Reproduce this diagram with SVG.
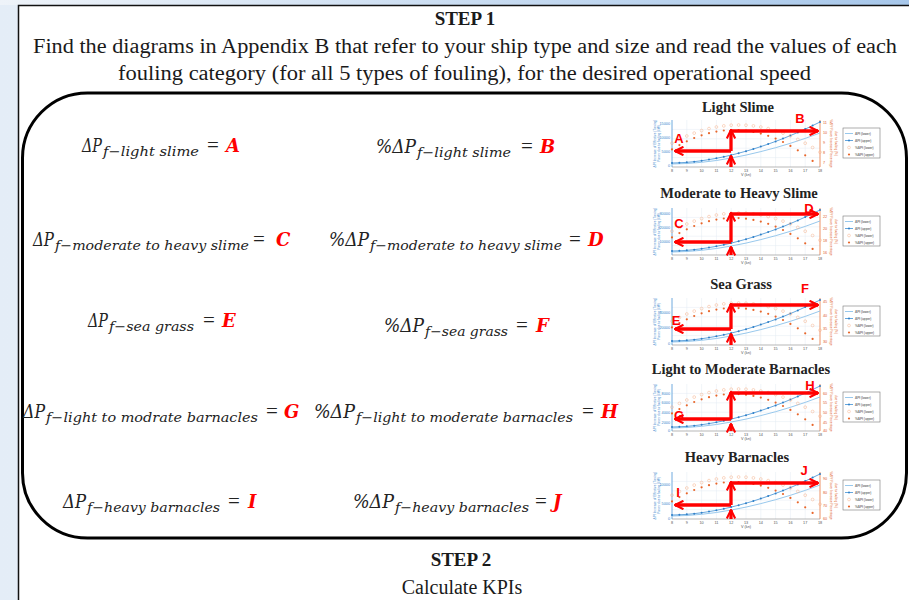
<svg xmlns="http://www.w3.org/2000/svg" width="909" height="600" viewBox="0 0 909 600">
<defs>
<linearGradient id="bgT" x1="0" y1="0" x2="1" y2="0"><stop offset="0" stop-color="#eef3f9"/><stop offset="1" stop-color="#a7c7ea"/></linearGradient>
<linearGradient id="bgL" x1="0" y1="0" x2="1" y2="0"><stop offset="0" stop-color="#e4edf7"/><stop offset="1" stop-color="#f1f5fa"/></linearGradient>
<marker id="ah" viewBox="0 0 10 10" refX="9" refY="5" markerWidth="3.2" markerHeight="3.2" orient="auto" markerUnits="strokeWidth"><path d="M1,1 L9,5 L1,9" fill="none" stroke="#ff0000" stroke-width="2"/></marker>
<style>
.t{font-family:"Liberation Serif","Times New Roman",serif;fill:#1a1a1a}
.eq{font-family:"DejaVu Serif","Liberation Serif",serif;font-style:italic;font-size:18px;fill:#222}
.sub{font-size:13px}
.op{font-family:"Liberation Serif",serif;font-style:normal;font-size:21px}
.red{fill:#ff0000;font-weight:bold}
.ttl{font-family:"Liberation Serif",serif;font-weight:bold;font-size:14.5px;text-anchor:middle;fill:#222}
.lbl{font-family:"Liberation Sans",Arial,sans-serif;font-weight:bold;font-size:13px;fill:#ff0000;text-anchor:middle}
.arr{stroke:#ff0000;stroke-width:3.3;fill:none;marker-end:url(#ah)}
.tk{font-family:"Liberation Sans",Arial,sans-serif;font-size:3.8px}
.tkl{fill:#3b86cc;text-anchor:end}
.tkr{fill:#e0622a}
.tkx{fill:#555;text-anchor:middle}
.grid{stroke:#e2eaf2;stroke-width:0.5}
.ob{fill:none;stroke:#f5b08a;stroke-width:0.5}
.of{fill:#e8662a}
.bd{fill:#2f7fc7}
</style>
<g id="plot">
<rect width="148" height="47" fill="#fff"/>
<path class="grid" d="M14.8,0V47M29.6,0V47M44.4,0V47M59.2,0V47M74,0V47M88.8,0V47M103.6,0V47M118.4,0V47M133.2,0V47M0,9.4H148M0,18.8H148M0,28.2H148M0,37.6H148"/>
<path d="M0,0V47" stroke="#4d94d6" stroke-width="0.8"/>
<path d="M148,0V47" stroke="#e8773f" stroke-width="0.8"/>
<path d="M0,47H148" stroke="#888" stroke-width="0.6"/>
<polyline fill="none" stroke="#8cc2ea" stroke-width="0.9" points="0,44 14.8,43.5 29.6,42.3 44.4,40.5 59.2,38 74,35.1 88.8,31.6 103.6,27.7 118.4,23.3 133.2,18.4 148,13"/>
<polyline fill="none" stroke="#3e8fd4" stroke-width="0.8" points="0,43 7.4,42.8 14.8,42.35 22.2,41.65 29.6,40.74 37,39.6 44.4,38.3 51.8,36.8 59.2,35.1 66.6,33.2 74,31.2 81.4,29 88.8,26.6 96.2,24.1 103.6,21.4 111,18.6 118.4,15.6 125.8,12.4 133.2,9.1 140.6,5.6 148,2"/>
<g class="bd">
<circle cx="0" cy="43" r="1"/><circle cx="7.4" cy="42.8" r="1"/><circle cx="14.8" cy="42.35" r="1"/><circle cx="22.2" cy="41.65" r="1"/><circle cx="29.6" cy="40.74" r="1"/><circle cx="37" cy="39.6" r="1"/><circle cx="44.4" cy="38.3" r="1"/><circle cx="51.8" cy="36.8" r="1"/><circle cx="59.2" cy="35.1" r="1"/><circle cx="66.6" cy="33.2" r="1"/><circle cx="74" cy="31.2" r="1"/><circle cx="81.4" cy="29" r="1"/><circle cx="88.8" cy="26.6" r="1"/><circle cx="96.2" cy="24.1" r="1"/><circle cx="103.6" cy="21.4" r="1"/><circle cx="111" cy="18.6" r="1"/><circle cx="118.4" cy="15.6" r="1"/><circle cx="125.8" cy="12.4" r="1"/><circle cx="133.2" cy="9.1" r="1"/><circle cx="140.6" cy="5.6" r="1"/><circle cx="148" cy="2" r="1"/>
</g>
<g class="ob">
<circle cx="0" cy="23.2" r="1.4"/><circle cx="7.4" cy="19.4" r="1.4"/><circle cx="14.8" cy="16" r="1.4"/><circle cx="22.2" cy="13.1" r="1.4"/><circle cx="29.6" cy="10.6" r="1.4"/><circle cx="37" cy="8.6" r="1.4"/><circle cx="44.4" cy="7" r="1.4"/><circle cx="51.8" cy="5.9" r="1.4"/><circle cx="59.2" cy="5.2" r="1.4"/><circle cx="66.6" cy="5" r="1.4"/><circle cx="74" cy="5.2" r="1.4"/><circle cx="81.4" cy="5.9" r="1.4"/><circle cx="88.8" cy="7" r="1.4"/><circle cx="96.2" cy="8.6" r="1.4"/><circle cx="103.6" cy="10.6" r="1.4"/><circle cx="111" cy="13.1" r="1.4"/><circle cx="118.4" cy="16" r="1.4"/><circle cx="125.8" cy="19.4" r="1.4"/><circle cx="133.2" cy="23.2" r="1.4"/><circle cx="140.6" cy="27.5" r="1.4"/><circle cx="148" cy="32.2" r="1.4"/>
</g>
<g class="of">
<circle cx="0" cy="29.4" r="1.1"/><circle cx="7.4" cy="25.1" r="1.1"/><circle cx="14.8" cy="21.3" r="1.1"/><circle cx="22.2" cy="18" r="1.1"/><circle cx="29.6" cy="15.3" r="1.1"/><circle cx="37" cy="13.2" r="1.1"/><circle cx="44.4" cy="11.6" r="1.1"/><circle cx="51.8" cy="10.5" r="1.1"/><circle cx="59.2" cy="10" r="1.1"/><circle cx="66.6" cy="10.1" r="1.1"/><circle cx="74" cy="10.7" r="1.1"/><circle cx="81.4" cy="11.9" r="1.1"/><circle cx="88.8" cy="13.6" r="1.1"/><circle cx="96.2" cy="15.8" r="1.1"/><circle cx="103.6" cy="18.6" r="1.1"/><circle cx="111" cy="22" r="1.1"/><circle cx="118.4" cy="25.9" r="1.1"/><circle cx="125.8" cy="30.3" r="1.1"/><circle cx="133.2" cy="35.3" r="1.1"/><circle cx="140.6" cy="40.9" r="1.1"/>
</g>
<g class="tk tkx">
<text x="0" y="51.5">8</text><text x="14.8" y="51.5">9</text><text x="29.6" y="51.5">10</text><text x="44.4" y="51.5">11</text><text x="59.2" y="51.5">12</text><text x="74" y="51.5">13</text><text x="88.8" y="51.5">14</text><text x="103.6" y="51.5">15</text><text x="118.4" y="51.5">16</text><text x="133.2" y="51.5">17</text><text x="148" y="51.5">18</text>
<text x="74" y="56">V (kn)</text>
</g>
<g class="tk" style="font-size:3.2px">
<text fill="#3b86cc" text-anchor="middle" transform="translate(-16,23.5) rotate(-90)">ΔPf Increase of Effective (Towing)</text>
<text fill="#3b86cc" text-anchor="middle" transform="translate(-12,23.5) rotate(-90)">Power due to fouling (kW)</text>
<text fill="#e0622a" text-anchor="middle" transform="translate(158,23.5) rotate(90)">%ΔPf Power Increase Percentage</text>
<text fill="#e0622a" text-anchor="middle" transform="translate(163,23.5) rotate(90)">due to fouling (%)</text>
</g>
<rect x="171" y="8" width="37" height="30" fill="#fff" stroke="#777" stroke-width="0.6"/>
<path d="M173,13.5h8" stroke="#8cc2ea" stroke-width="0.9"/>
<path d="M173,20.5h8" stroke="#3e8fd4" stroke-width="0.8"/><circle cx="177" cy="20.5" r="1" fill="#2f7fc7"/>
<circle cx="177" cy="27.5" r="1.4" fill="none" stroke="#f5b08a" stroke-width="0.5"/>
<circle cx="177" cy="34.5" r="1.1" fill="#e8662a"/>
<g class="tk" style="font-size:3.2px" fill="#333">
<text x="183" y="14.6">ΔPf (lower)</text>
<text x="183" y="21.6">ΔPf (upper)</text>
<text x="183" y="28.6">%ΔPf (lower)</text>
<text x="183" y="35.6">%ΔPf (upper)</text>
</g>
</g>
</defs>

<rect x="0" y="0" width="909" height="600" fill="url(#bgL)"/>
<rect x="0" y="0" width="909" height="5" fill="url(#bgT)"/>
<rect id="outer-box" x="18.5" y="5.5" width="900" height="600" fill="#fff" stroke="#111" stroke-width="1.5"/>

<g id="step1">
<text class="t" x="465" y="25" text-anchor="middle" font-size="19" font-weight="bold">STEP 1</text>
<text class="t" x="33" y="53" font-size="20" textLength="864" lengthAdjust="spacingAndGlyphs">Find the diagrams in Appendix B that refer to your ship type and size and read the values of each</text>
<text class="t" x="118" y="80" font-size="20" textLength="693" lengthAdjust="spacingAndGlyphs">fouling category (for all 5 types of fouling), for the desired operational speed</text>
</g>

<rect id="inner-box" x="22.5" y="93" width="884" height="445" rx="65" ry="65" fill="none" stroke="#000" stroke-width="3"/>

<g id="equations">
<g id="eq-a"><text class="eq" y="152"><tspan x="82" textLength="20" lengthAdjust="spacingAndGlyphs">ΔP</tspan><tspan class="sub" x="103" dy="4" textLength="96" lengthAdjust="spacingAndGlyphs">f−light slime</tspan><tspan class="op" x="207" dy="-4">=</tspan><tspan class="red" x="226">A</tspan></text></g>
<g id="eq-b"><text class="eq" y="153"><tspan x="376" textLength="40" lengthAdjust="spacingAndGlyphs">%ΔP</tspan><tspan class="sub" x="417" dy="4" textLength="94" lengthAdjust="spacingAndGlyphs">f−light slime</tspan><tspan class="op" x="521" dy="-4">=</tspan><tspan class="red" x="540">B</tspan></text></g>
<g id="eq-c"><text class="eq" y="246"><tspan x="33" textLength="21" lengthAdjust="spacingAndGlyphs">ΔP</tspan><tspan class="sub" x="55" dy="4" textLength="194" lengthAdjust="spacingAndGlyphs">f−moderate to heavy slime</tspan><tspan class="op" x="253" dy="-4">=</tspan><tspan class="red" x="276">C</tspan></text></g>
<g id="eq-d"><text class="eq" y="246"><tspan x="329" textLength="40" lengthAdjust="spacingAndGlyphs">%ΔP</tspan><tspan class="sub" x="370" dy="4" textLength="192" lengthAdjust="spacingAndGlyphs">f−moderate to heavy slime</tspan><tspan class="op" x="569" dy="-4">=</tspan><tspan class="red" x="588">D</tspan></text></g>
<g id="eq-e"><text class="eq" y="327"><tspan x="88" textLength="20" lengthAdjust="spacingAndGlyphs">ΔP</tspan><tspan class="sub" x="109" dy="4" textLength="85" lengthAdjust="spacingAndGlyphs">f−sea grass</tspan><tspan class="op" x="203" dy="-4">=</tspan><tspan class="red" x="222">E</tspan></text></g>
<g id="eq-f"><text class="eq" y="332"><tspan x="384" textLength="40" lengthAdjust="spacingAndGlyphs">%ΔP</tspan><tspan class="sub" x="425" dy="4" textLength="83" lengthAdjust="spacingAndGlyphs">f−sea grass</tspan><tspan class="op" x="516" dy="-4">=</tspan><tspan class="red" x="536">F</tspan></text></g>
<g id="eq-g"><text class="eq" y="418"><tspan x="23" textLength="22" lengthAdjust="spacingAndGlyphs">ΔP</tspan><tspan class="sub" x="46" dy="4" textLength="212" lengthAdjust="spacingAndGlyphs">f−light to modrate barnacles</tspan><tspan class="op" x="266" dy="-4">=</tspan><tspan class="red" x="284">G</tspan></text></g>
<g id="eq-h"><text class="eq" y="418"><tspan x="314" textLength="41" lengthAdjust="spacingAndGlyphs">%ΔP</tspan><tspan class="sub" x="356" dy="4" textLength="217" lengthAdjust="spacingAndGlyphs">f−light to moderate barnacles</tspan><tspan class="op" x="582" dy="-4">=</tspan><tspan class="red" x="601">H</tspan></text></g>
<g id="eq-i"><text class="eq" y="508"><tspan x="63" textLength="23" lengthAdjust="spacingAndGlyphs">ΔP</tspan><tspan class="sub" x="87" dy="4" textLength="133" lengthAdjust="spacingAndGlyphs">f−heavy barnacles</tspan><tspan class="op" x="228" dy="-4">=</tspan><tspan class="red" x="248">I</tspan></text></g>
<g id="eq-j"><text class="eq" y="508"><tspan x="353" textLength="41" lengthAdjust="spacingAndGlyphs">%ΔP</tspan><tspan class="sub" x="395" dy="4" textLength="134" lengthAdjust="spacingAndGlyphs">f−heavy barnacles</tspan><tspan class="op" x="535" dy="-4">=</tspan><tspan class="red" x="553">J</tspan></text></g>
</g>

<g id="chart-light-slime" transform="translate(672,120)">
<text class="ttl" x="66" y="-8">Light Slime</text>
<use href="#plot"/>
<g class="tk tkl"><text x="-2" y="47">0</text><text x="-2" y="33">5000</text><text x="-2" y="19">10000</text><text x="-2" y="5">15000</text></g>
<g class="tk tkr"><text x="151" y="4">11</text><text x="151" y="14">10</text><text x="151" y="24">9</text><text x="151" y="34">8</text><text x="151" y="44">7</text></g>
<text class="lbl" x="7" y="22.5">A</text><text class="lbl" x="128" y="2.5">B</text>
</g>
<g id="chart-moderate-heavy-slime" transform="translate(672,208)">
<text class="ttl" x="67" y="-10">Moderate to Heavy Slime</text>
<use href="#plot"/>
<g class="tk tkl"><text x="-2" y="7">30000</text><text x="-2" y="21">20000</text><text x="-2" y="35">10000</text></g>
<g class="tk tkr"><text x="151" y="10">22</text><text x="151" y="22">20</text><text x="151" y="34">18</text><text x="151" y="46">16</text></g>
<text class="lbl" x="7" y="19.5">C</text><text class="lbl" x="137" y="4.5">D</text>
</g>
<g id="chart-sea-grass" transform="translate(672,298)">
<text class="ttl" x="69" y="-9">Sea Grass</text>
<use href="#plot"/>
<g class="tk tkl"><text x="-2" y="16">40000</text><text x="-2" y="31">20000</text><text x="-2" y="47">0</text></g>
<g class="tk tkr"><text x="151" y="5">45</text><text x="151" y="19">40</text><text x="151" y="32">35</text><text x="151" y="45">30</text></g>
<text class="lbl" x="4" y="26.5">E</text><text class="lbl" x="133" y="-5.5">F</text>
</g>
<g id="chart-light-moderate-barnacles" transform="translate(672,384)">
<text class="ttl" x="69" y="-10">Light to Moderate Barnacles</text>
<use href="#plot"/>
<g class="tk tkl"><text x="-2" y="11">8000</text><text x="-2" y="20">6000</text><text x="-2" y="30">4000</text><text x="-2" y="40">2000</text><text x="-2" y="48">0</text></g>
<g class="tk tkr"><text x="151" y="11">60</text><text x="151" y="20">55</text><text x="151" y="30">50</text><text x="151" y="40">45</text><text x="151" y="48">40</text></g>
<text class="lbl" x="7" y="35.5">G</text><text class="lbl" x="138" y="6">H</text>
</g>
<g id="chart-heavy-barnacles" transform="translate(672,472)">
<text class="ttl" x="65" y="-10">Heavy Barnacles</text>
<use href="#plot"/>
<g class="tk tkl"><text x="-2" y="14">10000</text><text x="-2" y="33">5000</text><text x="-2" y="48">0</text></g>
<g class="tk tkr"><text x="151" y="8">90</text><text x="151" y="22">80</text><text x="151" y="35">70</text><text x="151" y="48">60</text></g>
<text class="lbl" x="6" y="24.5">I</text><text class="lbl" x="132" y="2.5">J</text>
</g>

<g id="connectors">
<g transform="translate(672,120)"><path class="arr" d="M59,47V36"/><path class="arr" d="M59,31V10"/><path class="arr" d="M59,31H3"/><path class="arr" d="M58,11H146"/></g>
<g transform="translate(672,208)"><path class="arr" d="M59,47V39"/><path class="arr" d="M59,34V5"/><path class="arr" d="M59,34H3"/><path class="arr" d="M58,6H146"/></g>
<g transform="translate(672,298)"><path class="arr" d="M59,47V36"/><path class="arr" d="M59,31V6"/><path class="arr" d="M59,31H3"/><path class="arr" d="M58,7H146"/></g>
<g transform="translate(672,384)"><path class="arr" d="M59,47V40"/><path class="arr" d="M59,35V8"/><path class="arr" d="M59,35H3"/><path class="arr" d="M58,9H146"/></g>
<g transform="translate(672,472)"><path class="arr" d="M59,47V38"/><path class="arr" d="M59,33V10"/><path class="arr" d="M59,33H3"/><path class="arr" d="M58,11H146"/></g>
</g>

<g id="step2">
<text class="t" x="461" y="566" text-anchor="middle" font-size="19" font-weight="bold">STEP 2</text>
<text class="t" x="462" y="594" text-anchor="middle" font-size="20">Calculate KPIs</text>
</g>
</svg>
